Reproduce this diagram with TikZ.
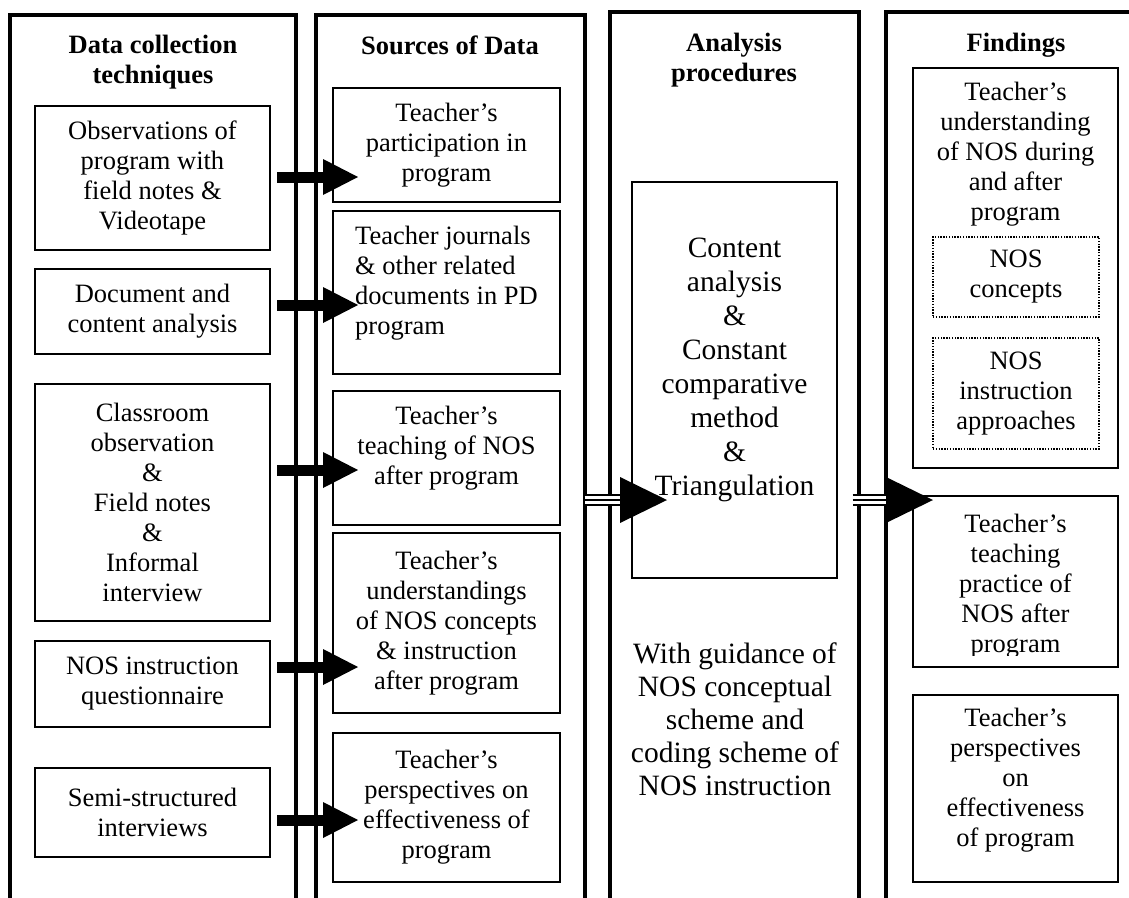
\documentclass[tikz,border=0pt]{standalone}
\usepackage{fontspec}
\setmainfont{Liberation Serif}
\usetikzlibrary{arrows.meta,calc}
\newcommand\bodysize{\fontsize{26.5pt}{30pt}\selectfont}
\newcommand\bigsize{\fontsize{29.5pt}{34pt}\selectfont}
\begin{document}
\begin{tikzpicture}[x=1pt,y=-1pt,
  column/.style={draw,line width=4pt,inner sep=0pt,outer sep=0pt},
  box/.style={draw,line width=1.3pt,inner sep=0pt,outer sep=0pt,align=center,font=\bodysize},
  dotbox/.style={box,dash pattern=on 1.4pt off 1.4pt},
  txt/.style={inner sep=0pt,align=center,font=\bodysize},
  head/.style={inner sep=0pt,align=center,font=\bodysize\bfseries},
  bigarrow/.style={line width=11pt,-{Triangle[length=35pt,width=36pt,line width=0pt]}},
  tripleline/.style={line width=2pt,double distance=8pt},
  triplehead/.style={line width=2pt,-{Triangle[length=47pt,width=46pt,line width=0pt]}}]
\useasboundingbox (0,0) rectangle (1129,897);
\clip (0,0) rectangle (1129,897);

% the four columns, open at the bottom
\node[column,minimum width=286pt,minimum height=905pt] (c1) at (153,467.5) {};
\node[column,minimum width=269pt,minimum height=905pt] (c2) at (450,467.5) {};
\node[column,minimum width=249pt,minimum height=908pt] (c3) at (734,466) {};
\node[column,minimum width=264pt,minimum height=908pt] (c4) at (1018,466) {};

% column headings
\node[head] (h1) at (153,62) {Data collection\\techniques};
\node[head] (h2) at (450,45) {Sources of Data};
\node[head] (h3) at (734,60) {Analysis\\procedures};
\node[head] (h4) at (1016,45) {Findings};

% data collection techniques
\node[box,minimum width=235pt,minimum height=144pt] (b1) at (152.5,178)
  {Observations of\\program with\\field notes \&\\Videotape};
\node[box,minimum width=235pt,minimum height=85pt] (b2) at (152.5,311.5)
  {Document and\\content analysis};
\node[box,minimum width=235pt,minimum height=237pt] (b3) at (152.5,502.5)
  {Classroom\\observation\\\&\\Field notes\\\&\\Informal\\interview};
\node[box,minimum width=235pt,minimum height=86pt] (b4) at (152.5,684)
  {NOS instruction\\questionnaire};
\node[box,minimum width=235pt,minimum height=89pt] (b5) at (152.5,812.5)
  {Semi-structured\\interviews};

% sources of data
\node[box,minimum width=227pt,minimum height=114pt] (s1) at (446.5,145)
  {Teacher’s\\participation in\\program};
\node[box,minimum width=227pt,minimum height=163pt] (s2) at (446.5,292.5) {};
\node[txt,align=left,anchor=west] (s2t) at (355,283)
  {Teacher journals\\\& other related\\documents in PD\\program};
\node[box,minimum width=227pt,minimum height=134pt] (s3) at (446.5,458) {};
\node[txt] (s3t) at (446.5,448) {Teacher’s\\teaching of NOS\\after program};
\node[box,minimum width=227pt,minimum height=180pt] (s4) at (446.5,623)
  {Teacher’s\\understandings\\of NOS concepts\\\& instruction\\after program};
\node[box,minimum width=227pt,minimum height=149pt] (s5) at (446.5,807.5)
  {Teacher’s\\perspectives on\\effectiveness of\\program};

% analysis procedures
\node[box,minimum width=205pt,minimum height=396pt] (cb) at (734.5,380) {};
\node[txt,font=\bigsize] (cbt) at (734.5,370)
  {Content\\analysis\\\&\\Constant\\comparative\\method\\\&\\Triangulation};
\node[txt,font=\fontsize{29.5pt}{33pt}\selectfont] (guide) at (735,719)
  {With guidance of\\NOS conceptual\\scheme and\\coding scheme of\\NOS instruction};

% findings
\node[box,minimum width=205pt,minimum height=400pt] (f1) at (1015.5,268) {};
\node[txt] (f1t) at (1015.5,154)
  {Teacher’s\\understanding\\of NOS during\\and after\\program};
\node[dotbox,minimum width=166pt,minimum height=80pt] (d1) at (1016,277)
  {NOS\\concepts};
\node[dotbox,minimum width=166pt,minimum height=111pt] (d2) at (1016,393.5)
  {NOS\\instruction\\approaches};
\node[box,minimum width=205pt,minimum height=171pt] (f2) at (1015.5,581.5) {};
\begin{scope}
  \clip (f2.north west) rectangle ([yshift=12pt]f2.south east);
  \node[txt] (f2t) at (1015.5,586)
    {Teacher’s\\teaching\\practice of\\NOS after\\program};
\end{scope}
\node[box,minimum width=205pt,minimum height=187pt] (f3) at (1015.5,788.5) {};
\node[txt] (f3t) at (1015.5,780)
  {Teacher’s\\perspectives\\on\\effectiveness\\of program};

% arrows from techniques to sources
\draw[bigarrow] ($(b1.east |- 0,177)+(7,0)$) -- ($(s1.west |- 0,177)+(25,0)$);
\draw[bigarrow] ($(b2.east |- 0,305)+(7,0)$) -- ($(s2.west |- 0,305)+(25,0)$);
\draw[bigarrow] ($(b3.east |- 0,470)+(7,0)$) -- ($(s3.west |- 0,470)+(25,0)$);
\draw[bigarrow] ($(b4.east |- 0,667)+(7,0)$) -- ($(s4.west |- 0,667)+(25,0)$);
\draw[bigarrow] ($(b5.east |- 0,820)+(7,0)$) -- ($(s5.west |- 0,820)+(25,0)$);

% triple-line arrows into analysis and findings
\coordinate (ta) at (c2.east |- 0,500);
\coordinate (tb) at ($(cb.west |- 0,500)+(35,0)$);
\draw[tripleline,shorten >=47pt] (ta) -- (tb);
\draw[triplehead] (ta) -- (tb);
\coordinate (tc) at ($(c3.east |- 0,500)+(-6,0)$);
\coordinate (td) at ($(f2.west |- 0,500)+(20,0)$);
\draw[tripleline,shorten >=47pt] (tc) -- (td);
\draw[triplehead] (tc) -- (td);
\end{tikzpicture}
\end{document}
